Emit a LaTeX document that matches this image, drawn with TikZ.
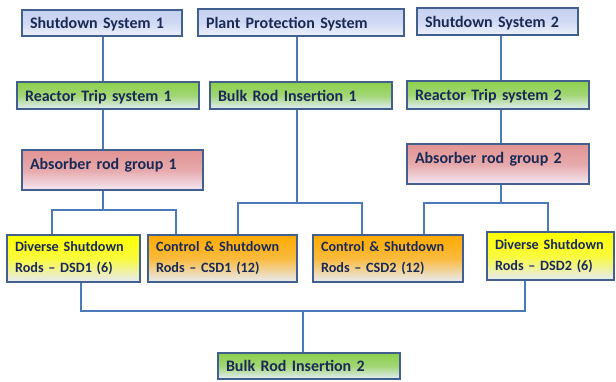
\documentclass[tikz,border=0pt]{standalone}
\usepackage{fontspec}
\setmainfont{Carlito}
\definecolor{bordc}{HTML}{41608F}
\definecolor{linec}{HTML}{4A7AB8}
\definecolor{txtc}{HTML}{1A2A55}
\definecolor{lavtop}{HTML}{C6D1F1}
\definecolor{lavbot}{HTML}{EEF1FB}
\definecolor{grntop}{HTML}{8CCF4A}
\definecolor{grnbot}{HTML}{E4ECF8}
\definecolor{redtop}{HTML}{E29494}
\definecolor{redbot}{HTML}{F4E8F2}
\definecolor{yeltop}{HTML}{FFFF00}
\definecolor{yelbot}{HTML}{E6EAF6}
\definecolor{orgtop}{HTML}{FFAA00}
\definecolor{orgbot}{HTML}{E8ECF6}
\tikzset{
  box/.style n args={2}{draw=bordc, line width=2pt, rectangle, inner xsep=8pt, inner ysep=0pt,
     minimum width=#1, minimum height=#2, text width=#1-16pt, align=left,
     font=\fontsize{16}{21}\selectfont\bfseries, text=txtc},
  low/.style={text height=15pt, text depth=3.5pt},
  high/.style={text height=11.5pt, text depth=12pt},
  twoline/.style={font=\fontsize{14.2}{21}\selectfont\bfseries},
  lav/.style={top color=lavtop, bottom color=lavbot, middle color=lavtop!75!lavbot},
  grn/.style={top color=grntop, bottom color=grnbot, middle color=grntop!75!grnbot},
  red/.style={top color=redtop, bottom color=redbot, middle color=redtop!75!redbot},
  yel/.style={top color=yeltop, bottom color=yelbot, middle color=yeltop!75!yelbot},
  org/.style={top color=orgtop, bottom color=orgbot, middle color=orgtop!75!orgbot},
  conn/.style={draw=linec, line width=2.2pt}
}
\begin{document}
\begin{tikzpicture}[x=1pt,y=-1pt]
\useasboundingbox (0,0) rectangle (616,381);
\node[box={160pt}{26pt}, lav, low] (SS1) at (102,23) {Shutdown System 1};
\node[box={206pt}{27pt}, lav, low] (PPS) at (301,22.5) {Plant Protection System};
\node[box={161pt}{27pt}, lav, low] (SS2) at (497.5,21.5) {Shutdown System 2};
\node[box={182pt}{27pt}, grn, low] (RT1) at (108,95.5) {Reactor Trip system 1};
\node[box={182pt}{27pt}, grn, low] (BRI1) at (301,95.5) {Bulk Rod Insertion 1};
\node[box={182pt}{28pt}, grn, low] (RT2) at (498,95) {Reactor Trip system 2};
\node[box={181pt}{40pt}, red, high] (ARG1) at (112.5,170) {Absorber rod group 1};
\node[box={182pt}{40pt}, red, high] (ARG2) at (498,164) {Absorber rod group 2};
\node[box={133pt}{47pt}, yel, twoline] (DSD1) at (73.5,258.5) {Diverse Shutdown\\Rods -- DSD1 (6)};
\node[box={149pt}{47pt}, org, twoline] (CSD1) at (222.5,258.5) {Control \& Shutdown\\Rods -- CSD1 (12)};
\node[box={150pt}{47pt}, org, twoline] (CSD2) at (388,258.5) {Control \& Shutdown\\Rods -- CSD2 (12)};
\node[box={127pt}{48pt}, yel, twoline] (DSD2) at (550.5,256) {Diverse Shutdown\\Rods -- DSD2 (6)};
\node[box={182pt}{26pt}, grn, low] (BRI2) at (309,366) {Bulk Rod Insertion 2};
% coordinates
\coordinate (bA) at (103,210);
\coordinate (dA1) at (52,210);
\coordinate (dA2) at (176,210);
\coordinate (bP) at (297,203);
\coordinate (dP1) at (238,203);
\coordinate (dP2) at (362,203);
\coordinate (bB) at (501,203);
\coordinate (dB1) at (424,203);
\coordinate (dB2) at (548,203);
\coordinate (bC) at (303,311);
\coordinate (dC1) at (81,311);
\coordinate (dC2) at (525,311);
% connectors
\draw[conn] (SS1.south -| bA) -- (RT1.north -| bA);
\draw[conn] (RT1.south -| bA) -- (ARG1.north -| bA);
\draw[conn] (ARG1.south -| bA) -- (bA);
\draw[conn] (dA1 |- DSD1.north) -- (dA1) -- (dA2) -- (dA2 |- CSD1.north);
\draw[conn] (PPS.south -| bP) -- (BRI1.north -| bP);
\draw[conn] (BRI1.south -| bP) -- (bP);
\draw[conn] (dP1 |- CSD1.north) -- (dP1) -- (dP2) -- (dP2 |- CSD2.north);
\draw[conn] (SS2.south -| bB) -- (RT2.north -| bB);
\draw[conn] (RT2.south -| bB) -- (ARG2.north -| bB);
\draw[conn] (ARG2.south -| bB) -- (bB);
\draw[conn] (dB1 |- CSD2.north) -- (dB1) -- (dB2) -- (dB2 |- DSD2.north);
\draw[conn] (dC1 |- DSD1.south) -- (dC1) -- (dC2) -- (dC2 |- DSD2.south);
\draw[conn] (bC) -- (bC |- BRI2.north);
\end{tikzpicture}
\end{document}
